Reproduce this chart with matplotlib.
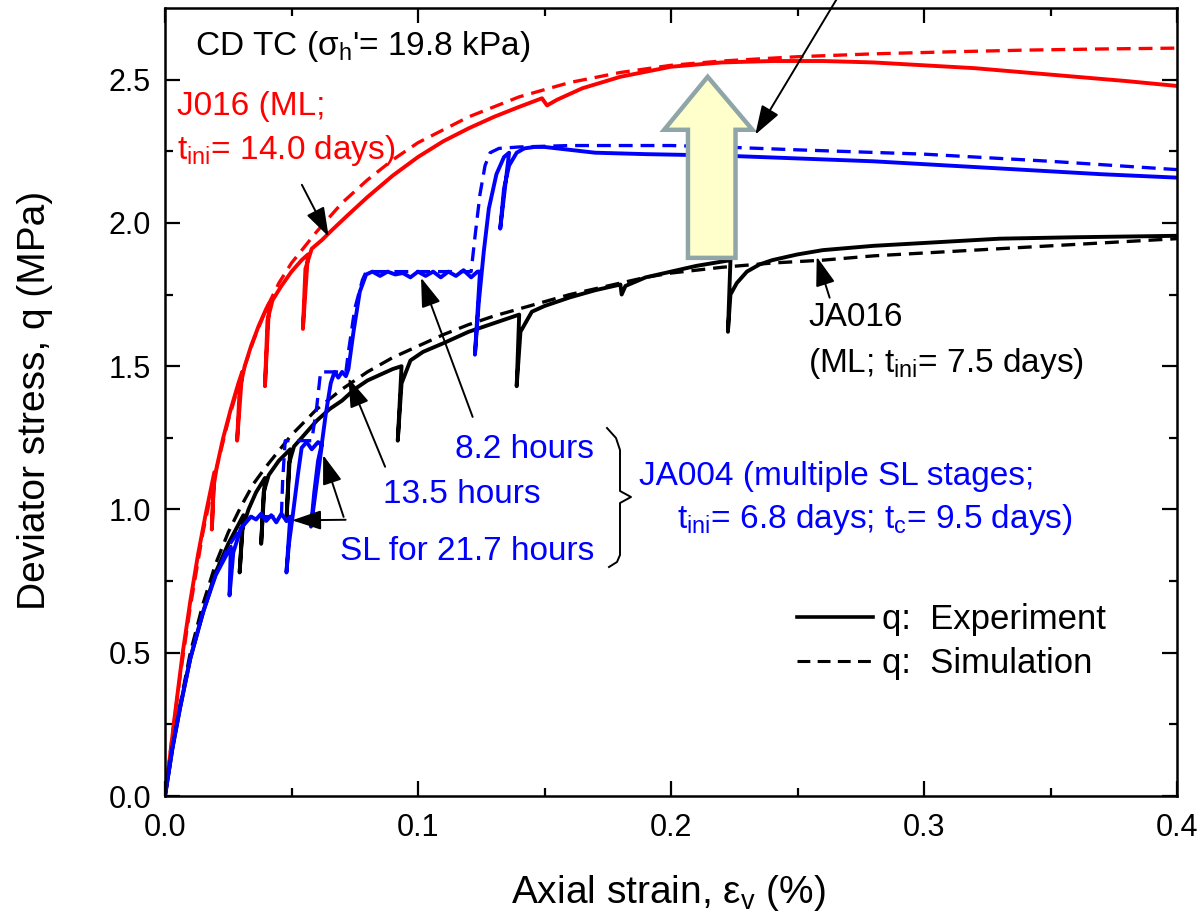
import numpy as np
import matplotlib
matplotlib.use("Agg")
import matplotlib.pyplot as plt
from matplotlib.lines import Line2D
from matplotlib.patches import Polygon

plt.rcParams['font.family'] = ['Liberation Sans', 'DejaVu Sans']
plt.rcParams['mathtext.fontset'] = 'custom'
plt.rcParams['mathtext.rm'] = 'Liberation Sans'
plt.rcParams['mathtext.it'] = 'Liberation Sans:italic'

# ---- J016 (red) ----
j016_exp_x = [0, 0.002, 0.004, 0.007, 0.010, 0.013, 0.016, 0.0195, 0.0185, 0.0192, 0.0205, 0.023, 0.026,
              0.029, 0.0305, 0.0285, 0.0295, 0.0315, 0.034, 0.037, 0.040, 0.0412, 0.0395, 0.0405, 0.0425,
              0.046, 0.050, 0.054, 0.0565, 0.0545, 0.0555, 0.058, 0.062, 0.066, 0.072, 0.08, 0.09, 0.1, 0.11,
              0.12, 0.13, 0.14, 0.149, 0.151, 0.155, 0.165, 0.18, 0.2, 0.22, 0.24, 0.26, 0.28, 0.3, 0.32,
              0.34, 0.36, 0.38, 0.4]
j016_exp_q = [0, 0.14, 0.29, 0.5, 0.68, 0.84, 0.98, 1.13, 0.93, 1.08, 1.15, 1.25, 1.35,
              1.44, 1.48, 1.24, 1.42, 1.50, 1.57, 1.64, 1.70, 1.72, 1.43, 1.66, 1.73,
              1.78, 1.83, 1.87, 1.89, 1.63, 1.84, 1.91, 1.94, 1.975, 2.025, 2.09, 2.165, 2.23, 2.285,
              2.33, 2.37, 2.405, 2.435, 2.41, 2.43, 2.47, 2.51, 2.545, 2.56, 2.565, 2.565, 2.56, 2.55, 2.54,
              2.525, 2.51, 2.495, 2.478]
j016_sim_x = [0, 0.003, 0.006, 0.01, 0.015, 0.02, 0.025, 0.03, 0.035, 0.04, 0.045, 0.05, 0.06, 0.07,
              0.08, 0.09, 0.1, 0.12, 0.14, 0.16, 0.18, 0.2, 0.22, 0.25, 0.28, 0.31, 0.34, 0.37, 0.4]
j016_sim_q = [0, 0.22, 0.42, 0.66, 0.92, 1.13, 1.31, 1.46, 1.59, 1.70, 1.79, 1.86, 1.97, 2.07,
              2.15, 2.22, 2.28, 2.37, 2.44, 2.49, 2.525, 2.55, 2.565, 2.58, 2.59, 2.597, 2.603, 2.607, 2.61]

# ---- JA016 (black) ----
ja016_exp_x = [0, 0.003, 0.006, 0.01, 0.015, 0.02, 0.025, 0.031, 0.0295, 0.0305, 0.033, 0.036, 0.0395,
               0.038, 0.039, 0.041, 0.045, 0.0495, 0.048, 0.049, 0.051, 0.055, 0.06, 0.065, 0.07, 0.075,
               0.08, 0.085, 0.09, 0.0935, 0.092, 0.0935, 0.097, 0.102, 0.11, 0.12, 0.13, 0.14, 0.139,
               0.1405, 0.145, 0.15, 0.16, 0.17, 0.18, 0.1805, 0.182, 0.19, 0.2, 0.21, 0.2235, 0.2225,
               0.2235, 0.226, 0.23, 0.235, 0.24, 0.25, 0.26, 0.28, 0.3, 0.33, 0.36, 0.4]
ja016_exp_q = [0, 0.17, 0.31, 0.48, 0.64, 0.78, 0.88, 0.98, 0.78, 0.93, 1.0, 1.06, 1.11,
               0.88, 1.06, 1.12, 1.17, 1.21, 0.96, 1.16, 1.22, 1.26, 1.31, 1.35, 1.38, 1.42,
               1.45, 1.47, 1.49, 1.50, 1.24, 1.44, 1.52, 1.55, 1.58, 1.62, 1.65, 1.68, 1.43,
               1.62, 1.69, 1.71, 1.74, 1.765, 1.785, 1.75, 1.78, 1.81, 1.83, 1.85, 1.87, 1.62,
               1.75, 1.79, 1.83, 1.855, 1.87, 1.89, 1.905, 1.92, 1.93, 1.945, 1.95, 1.955]
ja016_sim_x = [0, 0.003, 0.006, 0.01, 0.015, 0.02, 0.025, 0.03, 0.035, 0.04, 0.05, 0.06, 0.07, 0.08,
               0.09, 0.1, 0.11, 0.12, 0.13, 0.14, 0.15, 0.16, 0.17, 0.18, 0.19, 0.2, 0.22, 0.24, 0.26,
               0.28, 0.3, 0.33, 0.36, 0.4]
ja016_sim_q = [0, 0.17, 0.32, 0.5, 0.67, 0.81, 0.92, 1.01, 1.09, 1.15, 1.26, 1.35, 1.42, 1.48,
               1.53, 1.57, 1.61, 1.645, 1.675, 1.70, 1.725, 1.75, 1.77, 1.79, 1.81, 1.825, 1.845, 1.86,
               1.87, 1.885, 1.895, 1.91, 1.925, 1.945]

# ---- JA004 (blue) ----
ja004_exp_x = [0, 0.003, 0.006, 0.01, 0.015, 0.02, 0.026, 0.0255, 0.027, 0.03, 0.034, 0.036, 0.038,
               0.040, 0.042, 0.044, 0.046, 0.048, 0.0495, 0.048, 0.049, 0.0505, 0.0525, 0.054, 0.056,
               0.058, 0.0605, 0.062, 0.0577, 0.059, 0.0605, 0.062, 0.0635, 0.0655, 0.067, 0.0685, 0.070,
               0.0715, 0.0725, 0.0745, 0.077, 0.0795, 0.082, 0.085, 0.088, 0.091, 0.094, 0.097, 0.1,
               0.103, 0.106, 0.109, 0.112, 0.115, 0.118, 0.121, 0.1235, 0.1245, 0.1225, 0.124, 0.126,
               0.128, 0.131, 0.134, 0.136, 0.1325, 0.134, 0.136, 0.139, 0.142, 0.146, 0.15, 0.16, 0.17,
               0.19, 0.22, 0.25, 0.28, 0.31, 0.34, 0.37, 0.4]
ja004_exp_q = [0, 0.17, 0.31, 0.48, 0.64, 0.77, 0.87, 0.70, 0.85, 0.935, 0.975, 0.965, 0.985,
               0.96, 0.98, 0.955, 0.985, 0.96, 0.975, 0.78, 0.88, 0.98, 1.12, 1.215, 1.235,
               1.21, 1.235, 1.225, 0.94, 1.06, 1.17, 1.23, 1.33, 1.44, 1.48, 1.46, 1.48,
               1.465, 1.49, 1.62, 1.76, 1.82, 1.83, 1.815, 1.83, 1.82, 1.825, 1.81, 1.83,
               1.815, 1.83, 1.81, 1.83, 1.815, 1.835, 1.81, 1.83, 1.83, 1.54, 1.72, 1.90,
               2.05, 2.17, 2.23, 2.245, 1.98, 2.12, 2.20, 2.245, 2.26, 2.265, 2.265, 2.255, 2.245,
               2.24, 2.235, 2.225, 2.215, 2.20, 2.185, 2.17, 2.158]
ja004_sim_x = [0, 0.003, 0.006, 0.01, 0.015, 0.02, 0.025, 0.03, 0.034, 0.046, 0.0465, 0.0475, 0.058,
               0.060, 0.0615, 0.0715, 0.0725, 0.075, 0.078, 0.0795, 0.121, 0.1225, 0.1245, 0.1265,
               0.1285, 0.132, 0.14, 0.16, 0.2, 0.22, 0.25, 0.3, 0.35, 0.4]
ja004_sim_q = [0, 0.17, 0.31, 0.48, 0.64, 0.77, 0.87, 0.935, 0.975, 0.975, 1.1, 1.24, 1.24,
               1.36, 1.48, 1.48, 1.55, 1.70, 1.80, 1.83, 1.83, 1.95, 2.10, 2.20,
               2.245, 2.26, 2.265, 2.27, 2.27, 2.265, 2.255, 2.24, 2.215, 2.186]

W, H = 1200, 922
fig = plt.figure(figsize=(W / 100, H / 100), dpi=100)
ax = fig.add_axes([165 / W, 1 - 796 / H, 1012 / W, 788 / H])


def px(x, y):
    return x / W, 1 - y / H


LW = 2.8
dash = (0, (4.2, 2.4))
ax.plot(j016_exp_x, j016_exp_q, color="#ff0000", lw=LW, solid_joinstyle="round")
ax.plot(j016_sim_x, j016_sim_q, color="#ff0000", lw=LW * 0.85, ls=dash)
ax.plot(ja016_exp_x, ja016_exp_q, color="black", lw=LW, solid_joinstyle="round")
ax.plot(ja016_sim_x, ja016_sim_q, color="black", lw=LW * 0.85, ls=dash)
ax.plot(ja004_exp_x, ja004_exp_q, color="#0000ff", lw=LW, solid_joinstyle="round")
ax.plot(ja004_sim_x, ja004_sim_q, color="#0000ff", lw=LW * 0.85, ls=dash)

ax.set_xlim(0, 0.4)
ax.set_ylim(0, 2.75)
ax.set_xticks([0, 0.1, 0.2, 0.3, 0.4])
ax.set_xticks(np.arange(0.05, 0.4, 0.1), minor=True)
ax.set_yticks([0, 0.5, 1.0, 1.5, 2.0, 2.5])
ax.set_yticks(np.arange(0.25, 2.75, 0.5), minor=True)
ax.xaxis.set_major_formatter(matplotlib.ticker.FormatStrFormatter("%.1f"))
ax.yaxis.set_major_formatter(matplotlib.ticker.FormatStrFormatter("%.1f"))
ax.tick_params(which="both", direction="in", top=True, right=True, width=1.6, labelsize=22)
ax.tick_params(which="major", length=11)
ax.tick_params(which="minor", length=6)
ax.tick_params(axis="x", pad=12)
ax.tick_params(axis="y", pad=10)
for s in ax.spines.values():
    s.set_linewidth(1.8)

fig.text(*px(668, 893), "Axial strain, ε$_\\mathregular{v}$ (%)", fontsize=28, ha="center", va="center")
fig.text(*px(35, 400), "Deviator stress, q (MPa)", fontsize=28, ha="center", va="center", rotation=90)

# big yellow arrow
arrow_pts = [(0.2067, 1.878), (0.2255, 1.878), (0.2255, 2.325), (0.2322, 2.325), (0.2145, 2.51),
             (0.1973, 2.325), (0.2067, 2.325)]
ax.add_patch(Polygon(arrow_pts, closed=True, facecolor="#ffffcc", edgecolor="#8fa5a8", lw=3.2,
                     zorder=5, joinstyle="miter"))

ap = dict(arrowstyle="-|>,head_length=0.9,head_width=0.3", color="black", lw=1.4,
          shrinkA=0, shrinkB=0, mutation_scale=20)
ax.annotate("", xy=(0.2333, 2.308), xytext=(0.2725, 2.884), arrowprops=ap, annotation_clip=False, zorder=6)
ax.annotate("", xy=(0.0647, 1.952), xytext=(0.0541, 2.133), arrowprops=ap, zorder=6)
ax.annotate("", xy=(0.2576, 1.882), xytext=(0.2627, 1.739), arrowprops=ap, zorder=6)
ax.annotate("", xy=(0.0502, 0.962), xytext=(0.0714, 0.964), arrowprops=ap, zorder=6)
ax.annotate("", xy=(0.0625, 1.19), xytext=(0.0706, 0.974), arrowprops=ap, zorder=6)
ax.annotate("", xy=(0.0725, 1.459), xytext=(0.087, 1.149), arrowprops=ap, zorder=6)
ax.annotate("", xy=(0.1012, 1.809), xytext=(0.1216, 1.323), arrowprops=ap, zorder=6)

FS = 24
fig.text(*px(195, 55), "CD TC (σ$_\\mathregular{h}$'= 19.8 kPa)", fontsize=FS, va="baseline")
fig.text(*px(177, 115), "J016 (ML;", fontsize=FS, color="#ff0000", va="baseline")
fig.text(*px(177, 159), "t$_\\mathregular{ini}$= 14.0 days)", fontsize=FS, color="#ff0000", va="baseline")
fig.text(*px(808, 326), "JA016", fontsize=FS, va="baseline")
fig.text(*px(808, 372), "(ML; t$_\\mathregular{ini}$= 7.5 days)", fontsize=FS, va="baseline")
fig.text(*px(594, 458), "8.2 hours", fontsize=FS, color="#0000ff", va="baseline", ha="right")
fig.text(*px(383, 503), "13.5 hours", fontsize=FS, color="#0000ff", va="baseline")
fig.text(*px(340, 560), "SL for 21.7 hours", fontsize=FS, color="#0000ff", va="baseline")
fig.text(*px(639, 485), "JA004 (multiple SL stages;", fontsize=FS, color="#0000ff", va="baseline")
fig.text(*px(677, 528), "t$_\\mathregular{ini}$= 6.8 days; t$_\\mathregular{c}$= 9.5 days)", fontsize=FS,
         color="#0000ff", va="baseline")

# curly brace
bx = [607, 616, 620, 620, 631, 620, 620, 617, 609]
by = [428, 438, 450, 491, 497, 503, 555, 562, 567]
fig.lines.append(Line2D([x / W for x in bx], [1 - y / H for y in by], color="black", lw=1.4,
                        transform=fig.transFigure))

handles = [Line2D([], [], color="black", lw=2.6), Line2D([], [], color="black", lw=2.2, ls=dash)]
fig.legend(handles, ["q:  Experiment", "q:  Simulation"], loc="upper left",
           bbox_to_anchor=px(797, 603), frameon=False, fontsize=25, handlelength=2.2,
           handletextpad=0.25, labelspacing=0.33, borderpad=0, borderaxespad=0)

fig.savefig("out.png", dpi=100)
